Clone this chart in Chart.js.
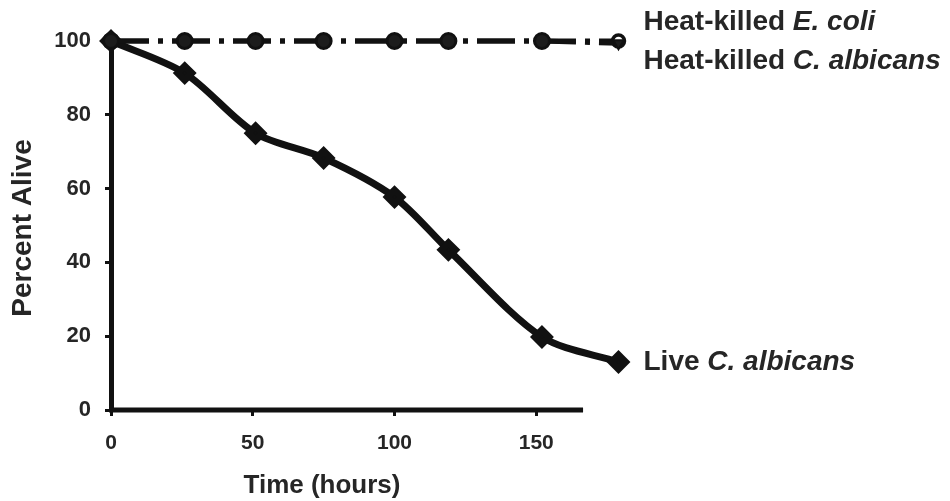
<!DOCTYPE html>
<html>
<head>
<meta charset="utf-8">
<script src="https://cdn.jsdelivr.net/npm/chart.js@4"></script>
<style>
  html, body { margin: 0; padding: 0; background: #fff; }
  #wrap { width: 950px; height: 501px; }
</style>
</head>
<body>
<div id="wrap"><canvas id="chartSurvival"></canvas></div>
<script>
// values
const hours = [0, 26, 51, 75, 100, 119, 152, 179];
const liveCalbicans = [100, 91.3, 75, 68.3, 57.7, 43.4, 19.8, 13];
const heatKilledEcoli = [100, 100, 100, 100, 100, 100, 100, 100];
const heatKilledCalbicans = [100, 100, 100, 100, 100, 100, 100, 99.4];
const xTicks = [0, 50, 100, 150];
const yTicks = [0, 20, 40, 60, 80, 100];
const xAxisEnd = 166.5;   // the drawn x axis stops before the last time point

const FONT = '"Liberation Sans", Arial, sans-serif';
const INK = '#111';
const TEXT = '#262626';

const toPoints = (ys) => hours.map((h, i) => ({ x: h, y: ys[i] }));
const lastOnly = (a, b) => hours.map((h, i) => (i === hours.length - 1 ? a : b));

// end labels: both heat-killed labels hang off the 100% line, one above, one below
const endLabels = [
    { anchor: heatKilledEcoli, dy: -19, parts: [['Heat-killed ', ''], ['E. coli', 'italic ']] },
    { anchor: heatKilledEcoli, dy: 20, parts: [['Heat-killed ', ''], ['C. albicans', 'italic ']] },
    { anchor: liveCalbicans, dy: 0, parts: [['Live ', ''], ['C. albicans', 'italic ']] },
];

const extrasPlugin = {
    id: 'extras',
    beforeDatasetsDraw(chart) {
        // x axis line, only as long as the original axis
        const ctx = chart.ctx;
        const xs = chart.scales.x;
        const y0 = chart.chartArea.bottom;
        ctx.save();
        ctx.strokeStyle = INK;
        ctx.lineWidth = 5;
        ctx.beginPath();
        ctx.moveTo(xs.getPixelForValue(0) - 2, y0);
        ctx.lineTo(xs.getPixelForValue(xAxisEnd), y0);
        ctx.stroke();
        ctx.restore();
    },
    afterDatasetsDraw(chart) {
        const ctx = chart.ctx;
        const xs = chart.scales.x, ys = chart.scales.y;
        const n = hours.length - 1;
        ctx.save();
        ctx.fillStyle = TEXT;
        ctx.textBaseline = 'middle';
        endLabels.forEach(lbl => {
            let x = xs.getPixelForValue(hours[n]) + 25;
            const y = ys.getPixelForValue(lbl.anchor[n]) + lbl.dy;
            lbl.parts.forEach(([txt, style]) => {
                ctx.font = style + 'bold 28px ' + FONT;
                ctx.fillText(txt, x, y);
                x += ctx.measureText(txt).width;
            });
        });

        // axis titles
        ctx.font = 'bold 26px ' + FONT;
        ctx.textAlign = 'center';
        ctx.fillText('Time (hours)', 322, 486);
        ctx.translate(23, 228);
        ctx.rotate(-Math.PI / 2);
        ctx.font = 'bold 28px ' + FONT;
        ctx.fillText('Percent Alive', 0, 0);
        ctx.restore();
    }
};

new Chart(document.getElementById('chartSurvival'), {
    type: 'line',
    data: {
        datasets: [
            {
                label: 'Heat-killed C. albicans',
                data: toPoints(heatKilledCalbicans),
                borderColor: INK,
                borderWidth: 5,
                borderDash: [38, 9, 5, 9],
                pointStyle: lastOnly('triangle', 'circle'),
                pointRotation: lastOnly(180, 0),
                pointRadius: lastOnly(6, 7),
                pointBackgroundColor: '#1c1c1c',
                pointBorderColor: INK,
                pointBorderWidth: 2,
                clip: false,
            },
            {
                label: 'Heat-killed E. coli',
                data: toPoints(heatKilledEcoli),
                borderColor: INK,
                borderWidth: 5,
                borderDash: [38, 9, 5, 9],
                pointStyle: 'circle',
                pointRadius: lastOnly(6, 8),
                pointBackgroundColor: lastOnly('#fff', '#1c1c1c'),
                pointBorderColor: INK,
                pointBorderWidth: lastOnly(3.5, 2),
                clip: false,
            },
            {
                label: 'Live C. albicans',
                data: toPoints(liveCalbicans),
                borderColor: INK,
                borderWidth: 7,
                tension: 0.3,
                pointStyle: 'rectRot',
                pointRadius: 7,
                pointBackgroundColor: INK,
                pointBorderColor: INK,
                clip: false,
            },
        ],
    },
    options: {
        responsive: true,
        maintainAspectRatio: false,
        animation: false,
        layout: { padding: { left: 0, right: 323, top: 41, bottom: 0 } },
        plugins: { legend: { display: false }, tooltip: { enabled: false } },
        scales: {
            x: {
                type: 'linear',
                min: 0,
                max: 182,
                afterFit: (scale) => { scale.height = 91; },
                afterBuildTicks: (scale) => { scale.ticks = xTicks.map(v => ({ value: v })); },
                ticks: { color: TEXT, font: { family: FONT, size: 21, weight: 'bold' }, padding: 15 },
                grid: { drawOnChartArea: false, color: INK, tickLength: 6, tickWidth: 3 },
                border: { display: false },
            },
            y: {
                min: 0,
                max: 100,
                afterFit: (scale) => { scale.width = 111; },
                afterBuildTicks: (scale) => { scale.ticks = yTicks.map(v => ({ value: v })); },
                ticks: { color: TEXT, font: { family: FONT, size: 22, weight: 'bold' }, padding: 14 },
                grid: { drawOnChartArea: false, color: INK, tickLength: 6, tickWidth: 3 },
                border: { color: INK, width: 5 },
            },
        },
    },
    plugins: [extrasPlugin],
});
</script>
</body>
</html>
